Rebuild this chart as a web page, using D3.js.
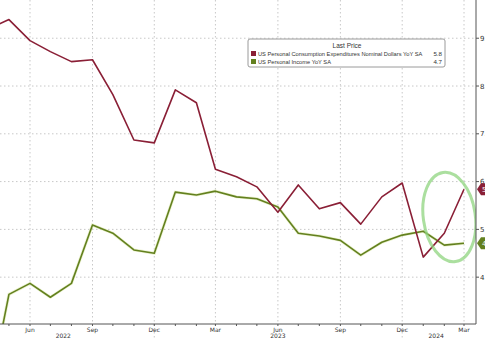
<!DOCTYPE html>
<html><head><meta charset="utf-8">
<script src="https://cdn.jsdelivr.net/npm/d3@7"></script>
<style>
html,body{margin:0;padding:0;background:#fff;overflow:hidden}
svg{display:block;font-family:"DejaVu Sans",Verdana,sans-serif}
.lgt{font-family:"Liberation Sans",Arial,sans-serif}
</style></head>
<body><svg id="c" width="485" height="339"></svg>
<script>
const months = ["2022-04","2022-05","2022-06","2022-07","2022-08","2022-09","2022-10","2022-11","2022-12",
  "2023-01","2023-02","2023-03","2023-04","2023-05","2023-06","2023-07","2023-08","2023-09","2023-10","2023-11","2023-12",
  "2024-01","2024-02","2024-03"];
const pceValues = [9.20,9.39,8.95,8.72,8.51,8.55,7.82,6.87,6.81,
  7.92,7.65,6.26,6.10,5.89,5.36,5.93,5.43,5.56,5.11,5.68,5.97,
  4.42,4.92,5.84];
const incomeValues = [1.5,3.64,3.87,3.58,3.87,5.09,4.92,4.57,4.50,
  5.78,5.72,5.80,5.68,5.64,5.47,4.92,4.86,4.77,4.46,4.73,4.88,
  4.96,4.67,4.71];
const seriesNames = ["US Personal Consumption Expenditures Nominal Dollars YoY SA","US Personal Income YoY SA"];
const lastPrices = ["5.8","4.7"];
const yTicks = [4,5,6,7,8,9];
const yTickLabels = ["4.0","5.0","6.0","7.0","8.0","9.0"];
const xTickMonths = ["2022-06","2022-09","2022-12","2023-03","2023-06","2023-09","2023-12","2024-03"];
const xTickLabels = ["Jun","Sep","Dec","Mar","Jun","Sep","Dec","Mar"];
const yearLabels = [["2022","2022-07-20"],["2023","2023-06"],["2024","2024-01-20"]];
const yearSeparators = ["2022-12","2023-12"];

const parse = s => { const p = s.split("-").map(Number); return new Date(p[0], p[1]-1, p[2]||1); };
const svg = d3.select("#c");
const W = 476, H = 324;
const x = d3.scaleTime().domain([parse("2022-06"), parse("2024-03")]).range([30, 464]);
const y = d3.scaleLinear().domain([3.02, 9.8]).range([H, 0]);
const red = "#8a1f36", green = "#63801f";

svg.append("defs").append("clipPath").attr("id","clip").append("rect").attr("x",0).attr("y",0).attr("width",W).attr("height",H);

// grid
const grid = svg.append("g");
grid.selectAll("line.h").data(yTicks).join("line")
  .attr("x1",0).attr("x2",W).attr("y1",d=>y(d)).attr("y2",d=>y(d))
  .attr("stroke","#c8c8c8").attr("stroke-width",1).attr("stroke-dasharray","1.5,2.5");
grid.selectAll("line.v").data(xTickMonths).join("line")
  .attr("x1",d=>x(parse(d))).attr("x2",d=>x(parse(d))).attr("y1",0).attr("y2",H)
  .attr("stroke","#c8c8c8").attr("stroke-width",1).attr("stroke-dasharray","1.5,2.5");
grid.selectAll("line.s").data(yearSeparators).join("line")
  .attr("x1",d=>x(parse(d))).attr("x2",d=>x(parse(d))).attr("y1",H).attr("y2",339)
  .attr("stroke","#c8c8c8").attr("stroke-width",1).attr("stroke-dasharray","1.5,2.5");

// lines
const plot = svg.append("g").attr("clip-path","url(#clip)");
const line = d3.line().x((d,i)=>x(parse(months[i]))).y(d=>y(d));
plot.append("path").datum(incomeValues).attr("d",line).attr("fill","none")
  .attr("stroke","#d8e6a0").attr("stroke-width",3).attr("opacity",0.5);
plot.append("path").datum(incomeValues).attr("d",line).attr("fill","none")
  .attr("stroke",green).attr("stroke-width",1.6).attr("stroke-linejoin","round");
plot.append("path").datum(pceValues).attr("d",line).attr("fill","none")
  .attr("stroke",red).attr("stroke-width",1.6).attr("stroke-linejoin","round");

// highlight ellipse
const ex = x(parse("2024-02"))+5, ey = y(5.26);
plot.append("ellipse").attr("cx",ex).attr("cy",ey).attr("rx",26).attr("ry",45)
  .attr("transform",`rotate(-8 ${ex} ${ey})`)
  .attr("fill","none").attr("stroke","#8fd47f").attr("stroke-width",3).attr("opacity",0.75);

// x axis
const xAxis = svg.append("g").attr("transform",`translate(0,${H})`);
xAxis.append("line").attr("x1",0).attr("x2",W).attr("y1",0).attr("y2",0).attr("stroke","#555").attr("stroke-width",1);
const allMonths = d3.timeMonth.range(parse("2022-04"), parse("2024-04"));
xAxis.selectAll("line.m").data(allMonths).join("line")
  .attr("x1",d=>x(d)).attr("x2",d=>x(d)).attr("y1",0).attr("y2",2).attr("stroke","#555");
xAxis.selectAll("text.m").data(xTickMonths).join("text")
  .attr("x",d=>x(parse(d))).attr("y",8).attr("text-anchor","middle")
  .attr("font-size",6).attr("fill","#333").text((d,i)=>xTickLabels[i]);
xAxis.selectAll("text.y").data(yearLabels).join("text")
  .attr("x",d=>x(parse(d[1]))).attr("y",14).attr("text-anchor","middle")
  .attr("font-size",6).attr("fill","#333").text(d=>d[0]);

// right axis
const yAxis = svg.append("g").attr("transform",`translate(${W},0)`);
yAxis.append("line").attr("x1",0).attr("x2",0).attr("y1",0).attr("y2",H).attr("stroke","#555");
yAxis.selectAll("line.t").data(yTicks).join("line")
  .attr("x1",0).attr("x2",3).attr("y1",d=>y(d)).attr("y2",d=>y(d)).attr("stroke","#555");
yAxis.selectAll("text.t").data(yTicks).join("text")
  .attr("x",4).attr("y",d=>y(d)+2.5).attr("font-size",7).attr("fill","#333").text((d,i)=>yTickLabels[i]);

// value tags
const tags = [[pceValues[pceValues.length-1], red, lastPrices[0]],[incomeValues[incomeValues.length-1], green, lastPrices[1]]];
tags.forEach(([v,c,t])=>{
  const g = yAxis.append("g").attr("transform",`translate(0,${y(v)})`);
  g.append("path").attr("d","M1,0 L5,-6 L20,-6 L20,6 L5,6 Z").attr("fill",c);
  g.append("text").attr("x",6).attr("y",2.5).attr("font-size",7).attr("fill","#fff").text(t);
});

// legend
const lg = svg.append("g").attr("transform","translate(248,39)");
lg.append("rect").attr("x",0).attr("y",0).attr("width",197).attr("height",28).attr("rx",2)
  .attr("fill","#fff").attr("stroke","#9a9a9a").attr("stroke-width",1);
lg.append("text").attr("class","lgt").attr("x",99).attr("y",9).attr("text-anchor","middle").attr("font-size",6.5).attr("fill","#333").text("Last Price");
[red, green].forEach((c,i)=>{
  lg.append("rect").attr("x",3).attr("y",12+i*8).attr("width",5).attr("height",5).attr("fill",c);
  lg.append("text").attr("class","lgt").attr("x",10).attr("y",17+i*8).attr("font-size",5.7).attr("fill","#333").text(seriesNames[i]);
  lg.append("text").attr("class","lgt").attr("x",194).attr("y",17+i*8).attr("text-anchor","end").attr("font-size",6.2).attr("fill","#333").text(lastPrices[i]);
});
</script></body></html>
